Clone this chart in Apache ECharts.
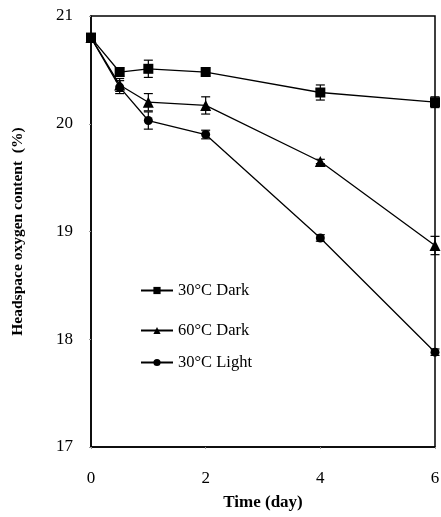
<!DOCTYPE html>
<html>
<head>
<meta charset="utf-8">
<script src="https://cdn.jsdelivr.net/npm/echarts@6/dist/echarts.min.js"></script>
<style>
  html, body { margin: 0; padding: 0; background: #fff; }
  #chart { width: 441px; height: 517px; }
</style>
</head>
<body>
<div id="chart"></div>
<script>
// time points (day)
const days = [0, 0.5, 1, 2, 4, 6];
// headspace oxygen content (%)
const dark30 = [20.80, 20.48, 20.51, 20.48, 20.29, 20.20];
const dark60 = [20.80, 20.36, 20.20, 20.17, 19.65, 18.87];
const light30 = [20.80, 20.34, 20.03, 19.90, 18.94, 17.88];
// standard deviations
const dark30Err = [0.03, 0.04, 0.08, 0.04, 0.07, 0.05];
const dark60Err = [0.03, 0.06, 0.08, 0.08, 0.02, 0.085];
const light30Err = [0.03, 0.06, 0.08, 0.04, 0.03, 0.03];

const yTicks = [17, 18, 19, 20, 21];
const xTicks = [0, 2, 4, 6];

const font = '"Liberation Serif", "Times New Roman", serif';

const pairs = (ys) => days.map((d, i) => [d, ys[i]]);
const errData = (ys, es) => days.map((d, i) => [d, ys[i] - es[i], ys[i] + es[i]]);

// error bars through the chart's own coordinate system
function errBar(params, api) {
  const x = api.value(0);
  const lo = api.coord([x, api.value(1)]);
  const hi = api.coord([x, api.value(2)]);
  const w = 4.5;
  const style = { stroke: '#000', lineWidth: 1.2 };
  return {
    type: 'group',
    children: [
      { type: 'line', shape: { x1: lo[0], y1: lo[1], x2: hi[0], y2: hi[1] }, style },
      { type: 'line', shape: { x1: lo[0] - w, y1: lo[1], x2: lo[0] + w, y2: lo[1] }, style },
      { type: 'line', shape: { x1: hi[0] - w, y1: hi[1], x2: hi[0] + w, y2: hi[1] }, style }
    ]
  };
}

function lineSeries(name, ys, symbol, size) {
  return {
    name: name,
    type: 'line',
    data: pairs(ys),
    symbol: symbol,
    symbolSize: size,
    showAllSymbol: true,
    z: 3,
    lineStyle: { color: '#000', width: 1.3 },
    itemStyle: { color: '#000', borderWidth: 0 },
    emphasis: { disabled: true }
  };
}

function errSeries(ys, es) {
  return {
    type: 'custom',
    renderItem: errBar,
    data: errData(ys, es),
    encode: { x: 0, y: [1, 2] },
    z: 2,
    silent: true
  };
}

function legendAt(name, top) {
  return {
    data: [name],
    left: 135,
    top: top,
    itemWidth: 32,
    itemHeight: 9,
    itemGap: 6,
    textStyle: { fontFamily: font, fontSize: 16.5, color: '#000' }
  };
}

const chart = echarts.init(document.getElementById('chart'), null, { renderer: 'canvas' });

chart.setOption({
  animation: false,
  backgroundColor: '#fff',
  grid: {
    left: 91, right: 6, top: 16, bottom: 70,
    outerBoundsMode: 'none',
    containLabel: false,
    show: true, borderColor: '#000', borderWidth: 1.5, backgroundColor: 'transparent'
  },
  legend: [
    legendAt('30°C Dark', 277),
    legendAt('60°C Dark', 317),
    legendAt('30°C Light', 349)
  ],
  xAxis: {
    type: 'value',
    min: 0, max: 6, interval: 2,
    name: 'Time (day)',
    nameLocation: 'middle',
    nameGap: 47,
    nameTextStyle: { fontFamily: font, fontSize: 17, fontWeight: 'bold', color: '#000' },
    axisLine: { show: true, lineStyle: { color: '#000', width: 1.5 } },
    axisTick: { show: true, length: 2, lineStyle: { color: '#999' } },
    splitLine: { show: false },
    axisLabel: {
      margin: 23, fontFamily: font, fontSize: 17, color: '#000',
      formatter: (v) => xTicks.includes(v) ? String(v) : ''
    }
  },
  yAxis: {
    type: 'value',
    min: 17, max: 21, interval: 1,
    name: 'Headspace oxygen content  (%)',
    nameLocation: 'middle',
    nameGap: 65,
    nameTextStyle: { fontFamily: font, fontSize: 15.5, fontWeight: 'bold', color: '#000' },
    axisLine: { show: true, lineStyle: { color: '#000', width: 1.5 } },
    axisTick: { show: true, length: 2, lineStyle: { color: '#999' } },
    splitLine: { show: false },
    axisLabel: {
      margin: 18, fontFamily: font, fontSize: 17, color: '#000',
      formatter: (v) => yTicks.includes(v) ? String(v) : ''
    }
  },
  series: [
    errSeries(dark30, dark30Err),
    errSeries(dark60, dark60Err),
    errSeries(light30, light30Err),
    lineSeries('30°C Dark', dark30, 'rect', 10),
    lineSeries('60°C Dark', dark60, 'triangle', 11),
    lineSeries('30°C Light', light30, 'circle', 9)
  ]
});
</script>
</body>
</html>
